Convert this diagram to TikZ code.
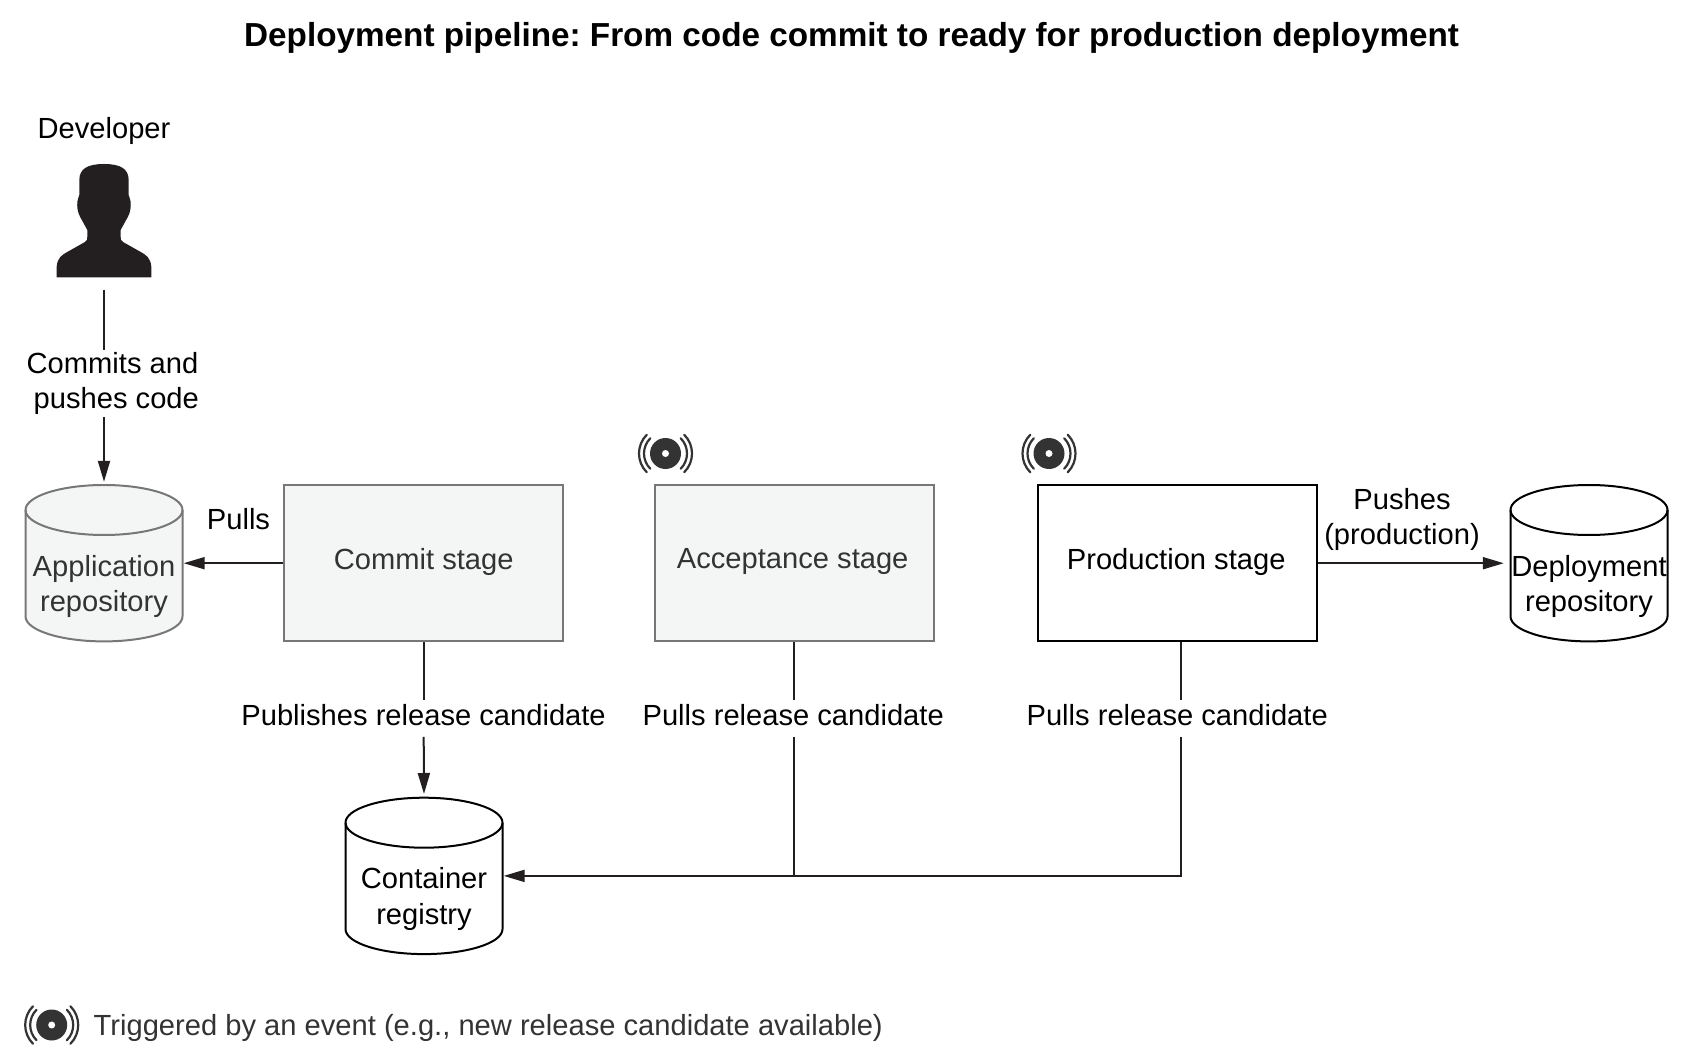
\documentclass[tikz,border=0pt]{standalone}
\usepackage{fontspec}
\setmainfont{Liberation Sans}
\usetikzlibrary{arrows.meta,calc}
\AtBeginDocument{\frenchspacing}
\definecolor{ink}{HTML}{231F20}
\definecolor{softink}{HTML}{333333}
\definecolor{greyline}{HTML}{777777}
\definecolor{greyfill}{HTML}{F4F6F5}
\tikzset{
  basefont/.style={font=\fontsize{29.13}{35.5}\selectfont},
  conn/.style={draw=ink,line width=2pt},
  arrowconn/.style={conn,-{Triangle[length=21pt,width=12pt]}},
  txt/.style={basefont,text=black,inner sep=0pt,align=center},
  gaplabel/.style={basefont,text=black,inner sep=0pt,text height=25pt,text depth=11.7pt},
  stagebox/.style={rectangle,minimum width=279pt,minimum height=156pt,inner sep=0pt,line width=2pt},
  stagegrey/.style={stagebox,draw=greyline,fill=greyfill},
  stagewhite/.style={stagebox,draw=black,fill=white},
  cylgrey/.style={draw=greyline,fill=greyfill},
  cylwhite/.style={draw=black,fill=white},
}
% #1 name, #2 x centre, #3 y centre, #4 style, #5 text colour, #6 text
\newcommand{\cylnode}[6]{%
  \path[#4,line width=2pt] (#2-78.5,#3-53.2) -- (#2-78.5,#3+53.2)
     arc[start angle=180,end angle=360,x radius=78.5pt,y radius=25pt]
     -- (#2+78.5,#3-53.2)
     arc[start angle=0,end angle=180,x radius=78.5pt,y radius=25pt] -- cycle;
  \draw[#4,fill=none,line width=2pt] (#2-78.5,#3-53.2)
     arc[start angle=180,end angle=360,x radius=78.5pt,y radius=25pt];
  \node[inner sep=0pt,minimum width=157pt,minimum height=156.4pt,
    label={[basefont,text=#5,inner sep=0pt,align=center,yshift=-23.3pt]center:{#6}}] (#1) at (#2,#3) {};
}
\newcommand{\eventicon}[3]{%
  \node[inner sep=0pt,minimum size=55pt] (#1) at (#2,#3) {};
  \fill[softink] (#1.center) circle[radius=15.5pt];
  \fill[white] (#1.center) circle[radius=3.5pt];
  \draw[softink,line width=2.2pt,line cap=round]
    ($(#1.center)+(135:21.5pt)$) arc[start angle=135,end angle=225,radius=21.5pt]
    ($(#1.center)+(135:26.5pt)$) arc[start angle=135,end angle=225,radius=26.5pt]
    ($(#1.center)+(45:21.5pt)$) arc[start angle=45,end angle=-45,radius=21.5pt]
    ($(#1.center)+(45:26.5pt)$) arc[start angle=45,end angle=-45,radius=26.5pt];
}
\begin{document}
\begin{tikzpicture}[x=1pt,y=-1pt]
\useasboundingbox (0,0) rectangle (1690,1059);
\node[font=\bfseries\fontsize{33.28}{38}\selectfont,inner sep=0pt] (title) at (851.6,37.5) {Deployment pipeline: From code commit to ready for production deployment};
\node[txt] (devlabel) at (104,131) {Developer};
% person silhouette (invisible holder node, then the shape)
\node[inner sep=0pt,minimum width=95pt,minimum height=126pt] (dev) at (104,226.5) {};
\begin{scope}[shift={(0,90)},x=0.3333pt,y=-0.3333pt]
\fill[ink] (170,562) -- (170,530) .. controls (172,505) and (185,495) .. (200,487)
  -- (255,456) .. controls (262,452) and (262,448) .. (262,440) -- (262,420)
  -- (240,380) .. controls (232,365) and (231,350) .. (232,335)
  .. controls (232,325) and (238,322) .. (238,315) -- (238,270)
  .. controls (238,235) and (265,222) .. (312,222)
  .. controls (359,222) and (386,235) .. (386,270) -- (386,315)
  .. controls (386,322) and (392,325) .. (392,335)
  .. controls (393,350) and (392,365) .. (384,380) -- (362,420) -- (362,440)
  .. controls (362,448) and (362,452) .. (369,456) -- (424,487)
  .. controls (439,495) and (452,505) .. (454,530) -- (454,562) -- cycle;
\end{scope}
\node[txt,minimum height=67.5pt] (commits) at (112.5,383.5) {Commits and\\\hspace{7.6pt}pushes code};
\cylnode{app}{104}{563.2}{cylgrey}{softink}{Application\\repository}
\cylnode{depl}{1589}{563.2}{cylwhite}{black}{Deployment\\repository}
\cylnode{reg}{424}{875.9}{cylwhite}{black}{Container\\registry}
\node[stagegrey,label={[basefont,text=softink,inner sep=0pt,yshift=1.4pt]center:Commit stage}] (commit) at (423.7,563.2) {};
\node[stagegrey,label={[basefont,text=softink,inner sep=0pt,yshift=1.4pt,xshift=-1.6pt]center:Acceptance stage}] (accept) at (794.3,563.2) {};
\node[stagewhite,label={[basefont,text=black,inner sep=0pt,yshift=1.4pt,xshift=-1.6pt]center:Production stage}] (prod) at (1177.8,563.2) {};
\node[txt] (pulls) at (238.5,518.8) {Pulls};
\node[txt] (pushes) at (1402,519.6) {Pushes\\(production)};
\node[gaplabel] (pub) at (423.6,718.35) {Publishes release candidate};
\node[gaplabel] (pull1) at (793.2,718.35) {Pulls release candidate};
\node[gaplabel] (pull2) at (1177.2,718.35) {Pulls release candidate};
\coordinate (prodx) at ([xshift=2.9pt]prod.south);
% connectors
\draw[conn] (dev.south) -- (dev.south |- commits.north);
\draw[arrowconn,shorten >=3pt] (dev.south |- commits.south) -- (app.north);
\draw[arrowconn,shorten >=1pt] (commit.west) -- (app.east);
\draw[conn] (commit.south) -- (commit.south |- pub.north);
\draw[arrowconn,shorten >=3.5pt] (commit.south |- pub.south) -- (reg.north);
\draw[conn] (accept.south) -- (accept.south |- pull1.north);
\draw[conn] (accept.south |- pull1.south) -- (accept.south |- reg.east);
\draw[conn] (prodx) -- (prodx |- pull2.north);
\draw[arrowconn,shorten >=1pt] (prodx |- pull2.south) |- (reg.east);
\draw[arrowconn,shorten >=6.5pt] (prod.east) -- (depl.west);
% event markers and legend
\eventicon{ev1}{665.5}{453.5}
\eventicon{ev2}{1049}{453.5}
\eventicon{ev3}{51.7}{1025}
\node[basefont,text=softink,inner sep=0pt,anchor=west] (legend) at (93.5,1027.8) {Triggered by an event (e.g., new release candidate available)};
\end{tikzpicture}
\end{document}
